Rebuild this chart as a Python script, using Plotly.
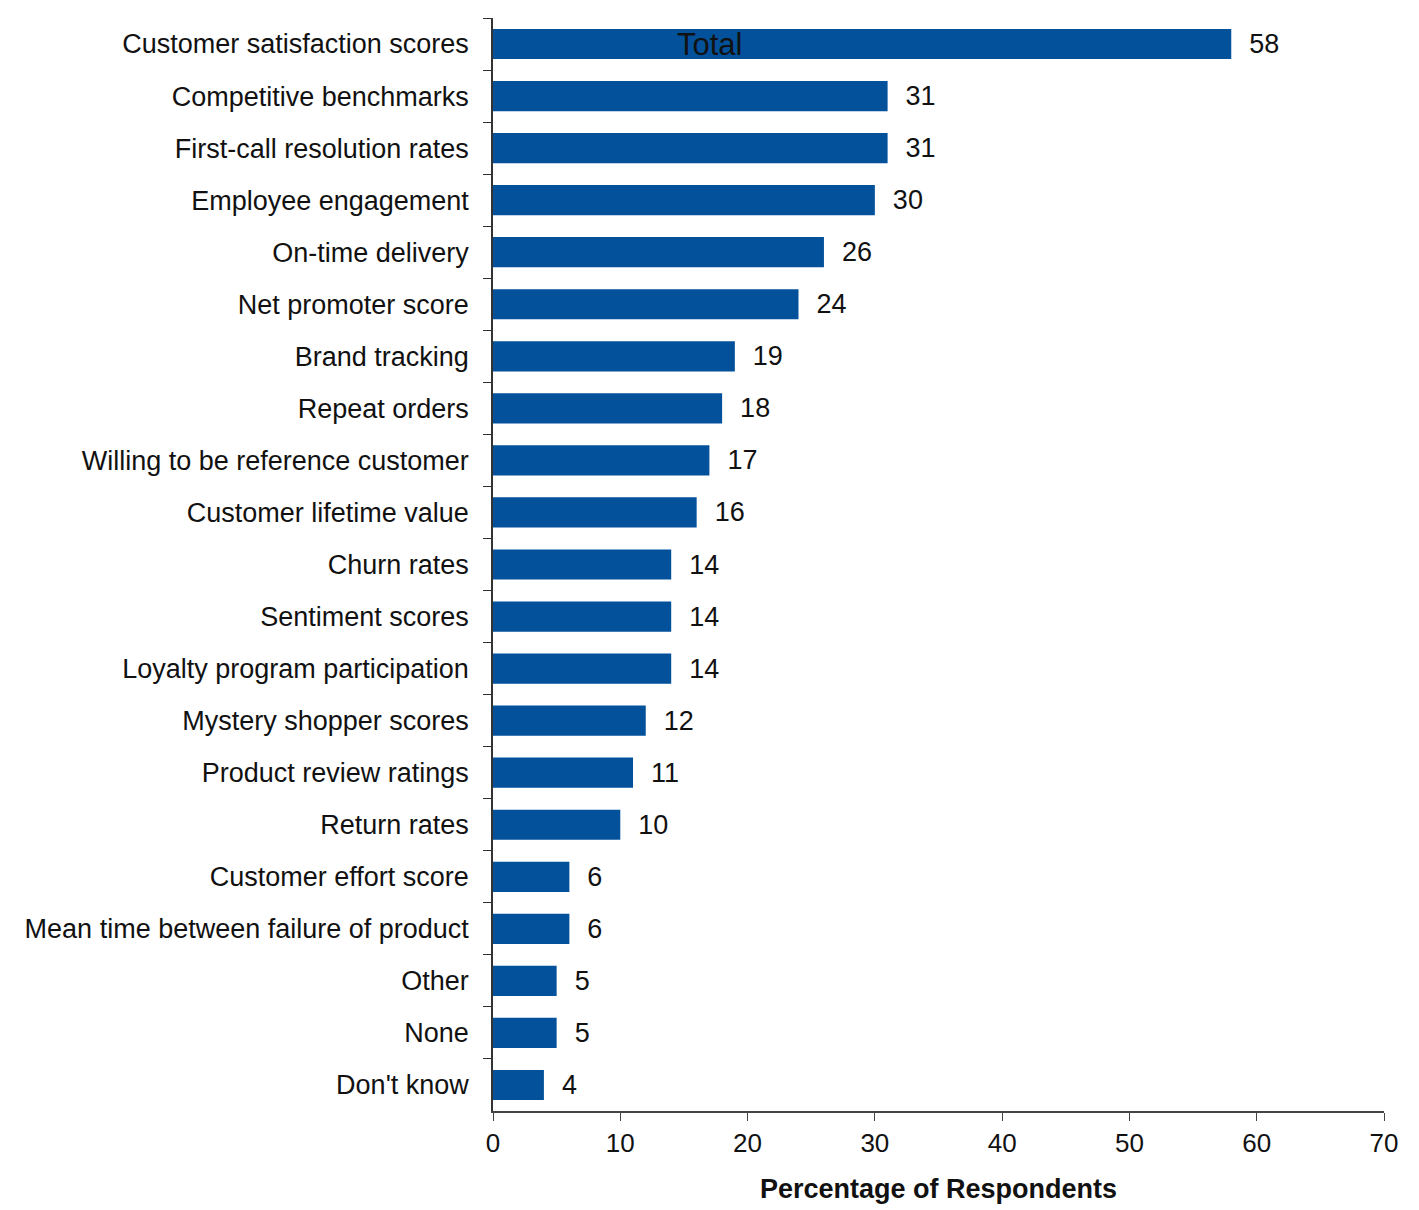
import plotly.graph_objects as go

categories = [
    "Customer satisfaction scores", "Competitive benchmarks", "First-call resolution rates",
    "Employee engagement", "On-time delivery", "Net promoter score", "Brand tracking",
    "Repeat orders", "Willing to be reference customer", "Customer lifetime value",
    "Churn rates", "Sentiment scores", "Loyalty program participation",
    "Mystery shopper scores", "Product review ratings", "Return rates",
    "Customer effort score", "Mean time between failure of product", "Other", "None",
    "Don't know",
]
values = [58, 31, 31, 30, 26, 24, 19, 18, 17, 16, 14, 14, 14, 12, 11, 10, 6, 6, 5, 5, 4]
x_ticks = [0, 10, 20, 30, 40, 50, 60, 70]

FONT = "Liberation Sans, Arial, sans-serif"

fig = go.Figure(go.Bar(
    y=categories, x=values, orientation="h",
    marker=dict(color="#03519B", line=dict(width=0)),
    text=["\u00a0\u00a0" + str(v) for v in values], textposition="outside",
    textfont=dict(family=FONT, size=27, color="#111"),
    cliponaxis=False,
))

fig.update_layout(
    width=1419, height=1210,
    margin=dict(l=493, r=35, t=18, b=99),
    paper_bgcolor="white", plot_bgcolor="white",
    bargap=0.42, showlegend=False,
    font=dict(family=FONT, size=27, color="#111"),
    xaxis=dict(
        range=[0, 70], tickvals=x_ticks, ticks="outside", ticklen=8,
        tickcolor="#444", showline=True, linecolor="#444", linewidth=1.5,
        showgrid=False, zeroline=False,
        tickfont=dict(family=FONT, size=26, color="#111"),
        title=dict(text="<b>Percentage of Respondents</b>",
                   font=dict(family=FONT, size=27, color="#111"), standoff=22),
    ),
    yaxis=dict(
        autorange="reversed", ticks="outside", tickson="boundaries", ticklen=8,
        tickcolor="#333", showline=True, linecolor="#333", linewidth=1.5,
        showgrid=False, zeroline=False, ticklabelstandoff=17,
        tickfont=dict(family=FONT, size=27, color="#111"),
    ),
    annotations=[dict(
        text="Total", x=17, y=0, xref="x", yref="y", showarrow=False,
        font=dict(family=FONT, size=31, color="#111"),
    )],
)

fig.write_html("out.html")
